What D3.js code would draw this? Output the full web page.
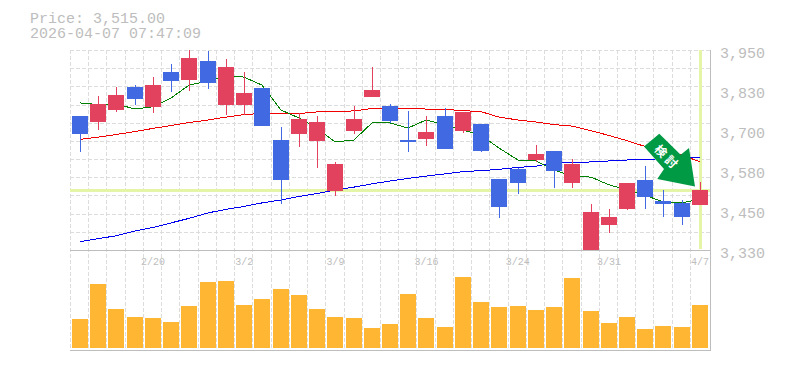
<!DOCTYPE html>
<html>
<head>
<meta charset="utf-8">
<script src="https://cdn.jsdelivr.net/npm/d3@7"></script>
<style>
body { margin: 0; background: #fff; }
text { font-family: "Liberation Mono", monospace; fill: #bdbdbd; }
</style>
</head>
<body>
<div id="chart"></div>
<script>
var dates = ['2/16','2/17','2/18','2/19','2/20','2/24','2/25','2/26','2/27','3/2','3/3','3/4','3/5','3/6','3/9','3/10','3/11','3/12','3/13','3/16','3/17','3/18','3/19','3/23','3/24','3/25','3/26','3/27','3/30','3/31','4/1','4/2','4/3','4/6','4/7'];
var date_labels = ['2/20','3/2','3/9','3/16','3/24','3/31','4/7'];
var opens = [3745,3725,3764,3835,3773,3882,3857,3916,3780,3780,3832,3671,3690,3668,3513,3699,3804,3776,3671,3674,3745,3699,3721,3550,3581,3609,3637,3538,3330,3408,3457,3547,3482,3476,3470];
var highs = [3745,3807,3835,3842,3866,3907,3950,3947,3922,3882,3832,3711,3755,3745,3603,3776,3897,3783,3761,3745,3770,3758,3721,3550,3584,3656,3637,3612,3473,3457,3538,3590,3516,3485,3541];
var lows = [3634,3702,3759,3780,3755,3820,3823,3829,3749,3749,3714,3473,3649,3584,3497,3690,3804,3724,3634,3652,3643,3693,3634,3429,3504,3603,3522,3522,3330,3383,3454,3457,3432,3408,3470];
var closes = [3690,3782,3810,3798,3842,3854,3925,3848,3897,3817,3714,3547,3736,3727,3597,3736,3826,3730,3665,3696,3643,3758,3637,3463,3538,3628,3575,3597,3448,3432,3538,3494,3473,3432,3515];
var ma_short = [3786,3781,3783,3767,3774,3801,3841,3854,3871,3866,3841,3764,3739,3708,3665,3671,3724,3724,3708,3733,3718,3702,3686,3646,3609,3606,3578,3559,3556,3532,3516,3500,3479,3476,3488];
var ma_mid = [3673,3680,3688,3697,3707,3716,3725,3733,3742,3750,3753,3752,3753,3758,3760,3761,3769,3770,3769,3767,3766,3762,3759,3742,3733,3727,3719,3714,3700,3685,3669,3651,3640,3625,3603];
var ma_long = [3356,3365,3374,3389,3400,3414,3428,3445,3456,3465,3476,3485,3496,3505,3516,3525,3535,3544,3552,3559,3566,3573,3576,3580,3586,3590,3600,3601,3603,3606,3609,3611,3613,3615,3617];
var volumes = [29,64,39,31,30,26,42,66,67,43,49,59,53,39,31,30,20,24,54,30,21,71,46,41,42,38,41,70,37,25,31,19,22,21,43];
var price_ticks = [3950,3826,3702,3578,3454,3330];
var current_price = 3515;

var width = 785, height = 370;
var left = 70, right = 710, top_y = 50, price_bottom = 250, vol_bottom = 350;
var up_color = '#e3425f', down_color = '#4169e1';
var idx = d3.range(dates.length);

var svg = d3.select('#chart').append('svg')
	.attr('width', width)
	.attr('height', height)
	.style('display', 'block');

var x = d3.scaleBand().domain(dates).range([71, 709.2]);
var y = d3.scaleLinear().domain([3330, 3950]).range([price_bottom, top_y]);
var y_vol = d3.scaleLinear().domain([0, 100]).range([348, 248]);

function cx(i) {
	return Math.round(x(dates[i]) + 1) + 8;
}

// Header
svg.append('text').attr('x', 30).attr('y', 23).style('font-size', '15px').text('Price: ' + d3.format(',.2f')(current_price));
svg.append('text').attr('x', 30).attr('y', 38).style('font-size', '15px').text('2026-04-07 07:47:09');

// Grid
var grid = svg.append('g')
	.attr('stroke', '#dcdcdc')
	.attr('stroke-dasharray', '4,2')
	.attr('shape-rendering', 'crispEdges');

grid.selectAll('.v')
	.data(idx)
	.enter()
	.append('line')
	.attr('x1', function(i) { return Math.round(x(dates[i]) - 1) + 0.5; })
	.attr('x2', function(i) { return Math.round(x(dates[i]) - 1) + 0.5; })
	.attr('y1', top_y)
	.attr('y2', vol_bottom);

grid.selectAll('.h')
	.data(d3.range(12))
	.enter()
	.append('line')
	.attr('x1', left)
	.attr('x2', right)
	.attr('y1', function(k) { return Math.round(top_y + k * 200 / 11) + 0.5; })
	.attr('y2', function(k) { return Math.round(top_y + k * 200 / 11) + 0.5; });

// Highlights for current price and latest day
svg.append('line')
	.attr('x1', left).attr('x2', right)
	.attr('y1', y(current_price)).attr('y2', y(current_price))
	.attr('stroke', '#e4f5a8').attr('stroke-width', 3)
	.attr('shape-rendering', 'crispEdges');
svg.append('line')
	.attr('x1', cx(34) + 0.5).attr('x2', cx(34) + 0.5)
	.attr('y1', top_y).attr('y2', price_bottom - 1)
	.attr('stroke', '#e4f5a8').attr('stroke-width', 3)
	.attr('shape-rendering', 'crispEdges');

// Moving averages
function ma_line(values, color) {
	var line = d3.line()
		.x(function(i) { return cx(i); })
		.y(function(i) { return y(values[i]); });
	svg.append('path')
		.datum(idx)
		.attr('d', line)
		.attr('fill', 'none')
		.attr('stroke', color)
		.attr('stroke-width', 1)
		.attr('shape-rendering', 'crispEdges');
}
ma_line(ma_long, '#0000f0');
ma_line(ma_mid, '#f00000');
ma_line(ma_short, '#008000');

// Candles
function candle_color(i) {
	return closes[i] >= opens[i] ? up_color : down_color;
}

svg.append('g').selectAll('line')
	.data(idx)
	.enter()
	.append('line')
	.attr('x1', function(i) { return cx(i) + 0.5; })
	.attr('x2', function(i) { return cx(i) + 0.5; })
	.attr('y1', function(i) { return y(highs[i]); })
	.attr('y2', function(i) { return y(lows[i]); })
	.attr('stroke', candle_color)
	.attr('shape-rendering', 'crispEdges');

svg.append('g').selectAll('rect')
	.data(idx)
	.enter()
	.append('rect')
	.attr('x', function(i) { return cx(i) - 8; })
	.attr('width', 16)
	.attr('y', function(i) { return Math.round(y(Math.max(opens[i], closes[i]))); })
	.attr('height', function(i) { return Math.round(Math.abs(y(opens[i]) - y(closes[i]))); })
	.attr('fill', candle_color);

// Volume bars
svg.append('g').selectAll('rect')
	.data(idx)
	.enter()
	.append('rect')
	.attr('x', function(i) { return cx(i) - 8; })
	.attr('width', 16)
	.attr('y', function(i) { return Math.round(y_vol(volumes[i])); })
	.attr('height', function(i) { return 348 - Math.round(y_vol(volumes[i])); })
	.attr('fill', '#ffb733');

// Frame
var frame = svg.append('g').attr('stroke', '#bdbdbd').attr('shape-rendering', 'crispEdges');
frame.append('line').attr('x1', left).attr('x2', right).attr('y1', price_bottom + 0.5).attr('y2', price_bottom + 0.5);
frame.append('line').attr('x1', left).attr('x2', right + 1).attr('y1', vol_bottom + 0.5).attr('y2', vol_bottom + 0.5);
frame.append('line').attr('x1', right + 0.5).attr('x2', right + 0.5).attr('y1', top_y).attr('y2', vol_bottom);

// Price axis
var y_axis = d3.axisRight(y)
	.tickValues(price_ticks)
	.tickSize(0)
	.tickPadding(10)
	.tickFormat(function(v) { return d3.format(',')(Math.round(v / 10) * 10); });
var y_g = svg.append('g').attr('transform', 'translate(' + right + ',0)').call(y_axis);
y_g.select('.domain').remove();
y_g.selectAll('text').attr('dy', 7).style('font-size', '15px');

// Date axis
var x_axis = d3.axisBottom(x)
	.tickValues(date_labels)
	.tickSize(0)
	.tickPadding(8);
var x_g = svg.append('g').attr('transform', 'translate(0,' + price_bottom + ')').call(x_axis);
x_g.select('.domain').remove();
x_g.selectAll('text').style('font-size', '10px').style('font-family', '"Liberation Mono", monospace').attr('dy', '0.71em');

// Arrow marker pointing at the latest candle
var tip_x = cx(34) - 5, tip_y = y(highs[34]) + 4.5;
var arrow = svg.append('g').attr('transform', 'translate(' + tip_x + ',' + tip_y + ')');
arrow.append('path')
	.attr('d', 'M0,0 L-37.7,-7.4 L-31,-17.4 L-51,-40 L-35.7,-52.7 L-14.3,-31.7 L-6,-38.4 Z')
	.attr('fill', '#009944');
arrow.append('text')
	.attr('transform', 'translate(-28,-28.7) rotate(45)')
	.attr('text-anchor', 'middle')
	.attr('dy', '0.35em')
	.style('font-family', '"Noto Sans CJK JP", sans-serif')
	.style('font-size', '12px')
	.style('font-weight', 'bold')
	.style('letter-spacing', '3px')
	.style('fill', '#fff')
	.text('検討');
</script>
</body>
</html>
